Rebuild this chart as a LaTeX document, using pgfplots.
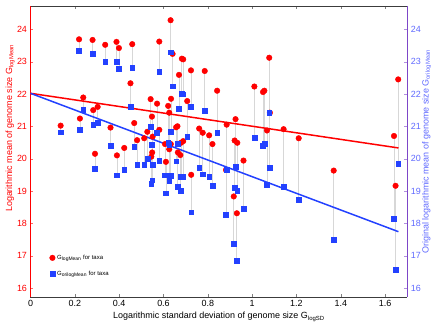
\documentclass[border=0pt]{standalone}
\usepackage{fontspec}
\setmainfont{Liberation Sans}
\usepackage{pgfplots}
\usepackage{pgfplotstable}
\pgfplotsset{compat=1.18}

\definecolor{cRed}{RGB}{255,0,0}
\definecolor{cBlue}{RGB}{35,65,255}
\definecolor{cBlueTxt}{RGB}{95,105,255}
\definecolor{cConn}{RGB}{215,215,215}
\definecolor{cRight}{RGB}{125,70,200}
\definecolor{cFrame}{RGB}{60,60,60}

% x = G_logSD, r = G_logMean, b = G_orilogMean
\pgfplotstableread{
x     r     b
0.136 21.02 20.82
0.219 23.69 23.34
0.223 21.24 20.89
0.238 21.89 21.52
0.280 23.67 23.24
0.283 21.50 21.05
0.291 20.15 19.68
0.303 21.60 21.12
0.337 23.52 22.99
0.361 20.96 20.39
0.388 23.61 23.00
0.390 20.10 19.49
0.399 23.42 22.79
0.423 20.33 19.66
0.451 22.33 21.61
0.459 23.54 22.81
0.468 21.10 20.36
0.481 20.57 19.81
0.513 20.63 19.82
0.527 20.83 19.99
0.542 21.84 20.98
0.548 21.30 20.42
0.551 20.68 19.80
0.549 20.19 19.33
0.545 20.06 19.22
0.571 21.70 20.80
0.581 23.62 22.70
0.581 20.89 19.94
0.607 20.45 19.49
0.611 19.90 18.93
0.621 21.63 20.48
0.626 21.42 20.44
0.632 24.28 23.29
0.634 21.85 20.83
0.633 20.45 19.47
0.626 20.29 19.32
0.641 23.24 22.24
0.657 20.97 19.92
0.663 21.00 20.46
0.665 20.19 19.12
0.670 22.59 21.55
0.676 20.11 19.01
0.679 20.49 19.43
0.683 23.09 22.01
0.689 23.07 21.99
0.689 20.54 19.44
0.707 21.78 20.68
0.724 22.73 21.60
0.725 19.50 18.34
0.761 20.93 19.72
0.777 20.80 19.52
0.786 22.71 21.48
0.806 20.72 19.44
0.821 20.45 19.16
0.842 22.10 20.79
0.885 21.05 19.66
0.882 19.65 18.26
0.925 21.22 19.75
0.921 20.56 19.10
0.933 20.49 19.02
0.917 18.83 17.36
0.931 18.31 16.85
0.961 19.94 18.44
1.010 22.23 20.65
1.049 22.06 20.40
1.055 22.10 20.45
1.067 20.87 19.19
1.077 23.12 21.42
1.080 21.42 19.73
1.142 20.91 19.12
1.210 20.63 18.73
1.368 19.63 17.48
1.640 20.70 18.13
1.647 19.16 16.57
1.659 22.45 19.85
}\taxa

\begin{document}
\begin{tikzpicture}
\useasboundingbox (-30.5bp,-31bp) rectangle (405.5bp,297bp);
\pgfplotsset{
  base/.style={
    scale only axis, width=376.8bp, height=291bp,
    xmin=0, xmax=1.7, ymin=15.72, ymax=24.72,
    font=\fontsize{9}{10}\selectfont,
    /pgf/number format/assume math mode=true,
    tick align=inside, major tick length=3bp,
    ytick={16,17,...,24},
  }
}
\begin{axis}[base,
  axis x line*=box, axis y line*=left,
  x axis line style={cFrame, line width=0.8bp},
  y axis line style={cRed, line width=1bp},
  xtick={0,0.2,...,1.6},
  xtick style={gray},
  ytick style={cRed!60},
  yticklabel style={cRed},
  xlabel={Logarithmic standard deviation of genome size G\textsubscript{logSD}},
  xlabel style={at={(axis description cs:0.5,-0.075)}, anchor=base},
  ylabel={Logarithmic mean of genome size G\textsubscript{logMean}},
  ylabel style={cRed, at={(axis description cs:-0.054,0.58)}, anchor=center},
  legend style={at={(axis cs:0.072,17.15)}, anchor=north west, draw=none, fill=none,
    font=\fontsize{6}{7}\selectfont, row sep=6bp},
  legend cell align=left,
]
\addplot[only marks, mark=none, forget plot,
  error bars/.cd, y dir=minus, y explicit, error mark=none,
  error bar style={draw=cConn, line width=0.8bp}]
  table[x=x, y=r, y error expr=\thisrow{r}-\thisrow{b}] {\taxa};
\addplot[cRed, line width=1.5bp, forget plot] coordinates {(0,22.02) (1.66,20.33)};
\addplot[cBlue, line width=1.5bp, forget plot] coordinates {(0,22.02) (1.66,17.74)};
\addplot[only marks, mark=*, mark size=2.8bp, cRed] table[x=x, y=r] {\taxa};
\addplot[only marks, mark=square*, mark size=2.4bp, cBlue] table[x=x, y=b] {\taxa};
\legend{G\textsubscript{logMean} for taxa, G\textsubscript{orilogMean} for taxa}
\end{axis}
\begin{axis}[base,
  axis x line=none, axis y line*=right,
  y axis line style={cRight, line width=0.8bp},
  ytick style={cRight!60},
  yticklabel style={cBlueTxt},
  ylabel={Original logarithmic mean of genome size G\textsubscript{orilogMean}},
  ylabel style={cBlueTxt, at={(axis description cs:1.0515,0.5)}, anchor=center},
]
\end{axis}
\end{tikzpicture}
\end{document}
